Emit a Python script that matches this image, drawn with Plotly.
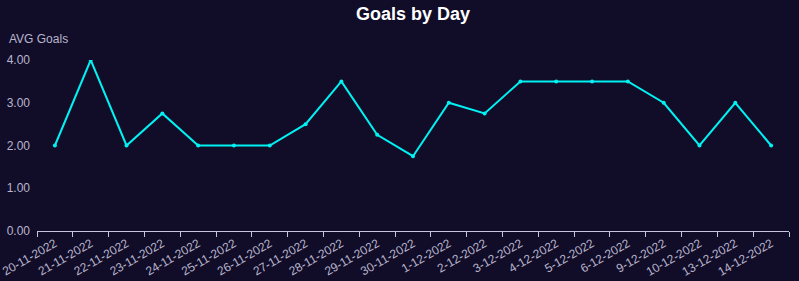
import plotly.graph_objects as go

dates = ["20-11-2022", "21-11-2022", "22-11-2022", "23-11-2022", "24-11-2022",
         "25-11-2022", "26-11-2022", "27-11-2022", "28-11-2022", "29-11-2022",
         "30-11-2022", "1-12-2022", "2-12-2022", "3-12-2022", "4-12-2022",
         "5-12-2022", "6-12-2022", "9-12-2022", "10-12-2022", "13-12-2022",
         "14-12-2022"]
avg_goals = [2, 4, 2, 2.75, 2, 2, 2, 2.5, 3.5, 2.25, 1.75, 3, 2.75, 3.5, 3.5,
             3.5, 3.5, 3, 2, 3, 2]
y_ticks = [0, 1, 2, 3, 4]

bg = "#110d29"
txt = "#b9b5cc"
idx = list(range(len(dates)))

fig = go.Figure(go.Scatter(
    x=idx, y=avg_goals, mode="lines+markers",
    line=dict(color="#00f2f2", width=2),
    marker=dict(color="#00f2f2", size=4),
    hoverinfo="skip"))

fig.update_layout(
    width=799, height=281,
    paper_bgcolor=bg, plot_bgcolor=bg,
    margin=dict(l=37, r=10, t=60, b=50),
    showlegend=False,
    font=dict(family="Liberation Sans, Arial, sans-serif", color=txt, size=12),
    title=dict(text="<b>Goals by Day</b>", x=0.5, xref="paper", xanchor="center",
               y=0.95, yref="container", yanchor="middle",
               font=dict(size=18, color="#ffffff")),
    xaxis=dict(range=[-0.5, len(dates) - 0.5], tickmode="array", tickvals=idx,
               ticktext=dates, tickangle=-30, ticks="", showgrid=False,
               zeroline=False, showline=True, linecolor="#c8c4dc", linewidth=1,
               automargin=False,
               tickfont=dict(color=txt, size=12),
               minor=dict(tickmode="array",
                          tickvals=[i - 0.5 for i in range(len(dates) + 1)],
                          ticks="outside", ticklen=5, tickcolor="#c8c4dc",
                          showgrid=False)),
    yaxis=dict(range=[0, 4], tickmode="array", tickvals=y_ticks,
               tickformat=".2f", showgrid=False, zeroline=False,
               showline=False, ticks="", automargin=False,
               ticklabelstandoff=6,
               tickfont=dict(color=txt, size=12)),
    annotations=[dict(text="AVG Goals", xref="paper", yref="paper",
                      x=-0.0395, y=1.07, xanchor="left", yanchor="bottom",
                      showarrow=False, font=dict(color=txt, size=12))],
)

fig.write_html("out.html")
